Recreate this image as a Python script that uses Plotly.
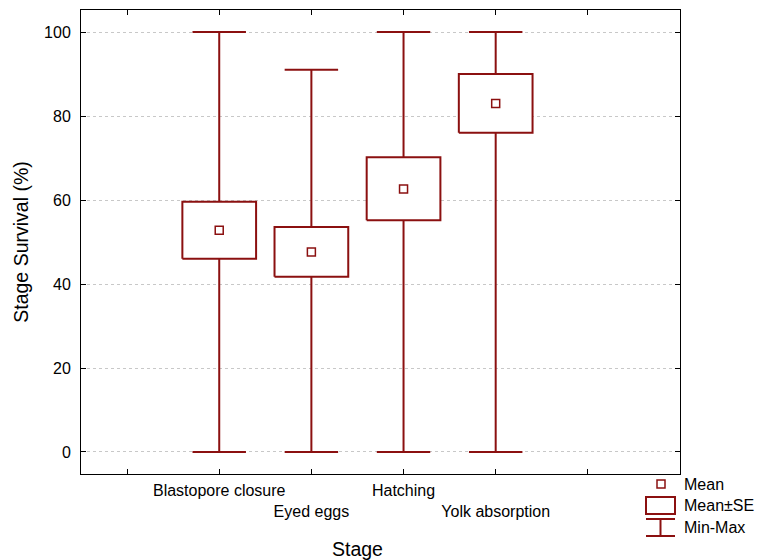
import plotly.graph_objects as go

# Stage survival summary statistics (%)
stages = ["Blastopore closure", "Eyed eggs", "Hatching", "Yolk absorption"]
means = [52.8, 47.6, 62.6, 83.0]
se_low = [46.0, 41.7, 55.2, 76.0]
se_high = [59.6, 53.6, 70.2, 90.0]
mins = [0, 0, 0, 0]
maxs = [100, 91, 100, 100]

positions = [1, 2, 3, 4]
tick_positions = [0, 1, 2, 3, 4, 5]
tick_labels = ["", "Blastopore closure", "<br>Eyed eggs", "Hatching", "<br>Yolk absorption", ""]

RED = "#8b1010"
FONT = "Liberation Sans, Arial, sans-serif"
BOX_HALF = 0.40
CAP_HALF = 0.29

fig = go.Figure()

for x, lo, hi, mn, mx in zip(positions, se_low, se_high, mins, maxs):
    # whisker (min-max) with caps
    fig.add_trace(go.Scatter(x=[x, x], y=[mn, mx], mode="lines",
                             line=dict(color=RED, width=2), hoverinfo="skip"))
    for v in (mn, mx):
        fig.add_trace(go.Scatter(x=[x - CAP_HALF, x + CAP_HALF], y=[v, v], mode="lines",
                                 line=dict(color=RED, width=2), hoverinfo="skip"))
    # mean +/- SE box
    fig.add_trace(go.Scatter(
        x=[x - BOX_HALF, x + BOX_HALF, x + BOX_HALF, x - BOX_HALF, x - BOX_HALF],
        y=[lo, lo, hi, hi, lo], mode="lines", fill="toself", fillcolor="white",
        line=dict(color=RED, width=2), hoverinfo="skip"))

# means
fig.add_trace(go.Scatter(x=positions, y=means, mode="markers",
                         marker=dict(symbol="square", size=8, color="white",
                                     line=dict(color=RED, width=1.5))))

# plot area in pixels: x 81..680, y 10..474
L, R, T, B = 81, 680, 10, 474
def px(x):
    return (x - L) / (R - L)
def py(y):
    return (B - y) / (B - T)

shapes = []
# legend: mean marker
shapes.append(dict(type="rect", xref="paper", yref="paper",
                   x0=px(657), x1=px(665), y0=py(488), y1=py(480),
                   line=dict(color=RED, width=1.5), fillcolor="white"))
# legend: SE box
shapes.append(dict(type="rect", xref="paper", yref="paper",
                   x0=px(646), x1=px(675), y0=py(514), y1=py(497),
                   line=dict(color=RED, width=2), fillcolor="white"))
# legend: min-max whisker
for (x0, y0, x1, y1) in [(646, 519, 675, 519), (660.5, 519, 660.5, 536), (646, 536, 675, 536)]:
    shapes.append(dict(type="line", xref="paper", yref="paper",
                       x0=px(x0), x1=px(x1), y0=py(y0), y1=py(y1),
                       line=dict(color=RED, width=2)))

annotations = []
for text, y in [("Mean", 484), ("Mean±SE", 505), ("Min-Max", 527)]:
    annotations.append(dict(text=text, xref="paper", yref="paper", x=px(682), y=py(y),
                            xanchor="left", yanchor="middle", showarrow=False,
                            font=dict(family=FONT, size=16, color="black")))
annotations.append(dict(text="Stage", xref="paper", yref="paper", x=px(357), y=py(549),
                        xanchor="center", yanchor="middle", showarrow=False,
                        font=dict(family=FONT, size=19.5, color="black")))

fig.update_layout(
    width=765, height=560,
    margin=dict(l=L, r=765 - R, t=T, b=560 - B),
    paper_bgcolor="white", plot_bgcolor="white",
    showlegend=False,
    shapes=shapes, annotations=annotations,
    font=dict(family=FONT, size=16, color="black"),
)
fig.update_xaxes(range=[-0.5, 6.0], tickmode="array", tickvals=tick_positions,
                 ticktext=tick_labels, tickangle=0, automargin=False,
                 ticks="inside", ticklen=5, tickcolor="black", ticklabelstandoff=2,
                 showline=True, linecolor="black", linewidth=1, mirror="ticks",
                 showgrid=False, zeroline=False, tickfont=dict(size=16))
fig.update_yaxes(range=[-5.24, 105.24], tickvals=[0, 20, 40, 60, 80, 100],
                 ticks="inside", ticklen=5, tickcolor="black", automargin=False,
                 ticklabelstandoff=6,
                 showline=True, linecolor="black", linewidth=1, mirror="ticks",
                 showgrid=True, gridcolor="#c8c8c8", griddash="dot", gridwidth=1,
                 zeroline=False, tickfont=dict(size=16),
                 title=dict(text="Stage Survival (%)", font=dict(size=19.5), standoff=10))

fig.write_html("out.html")
